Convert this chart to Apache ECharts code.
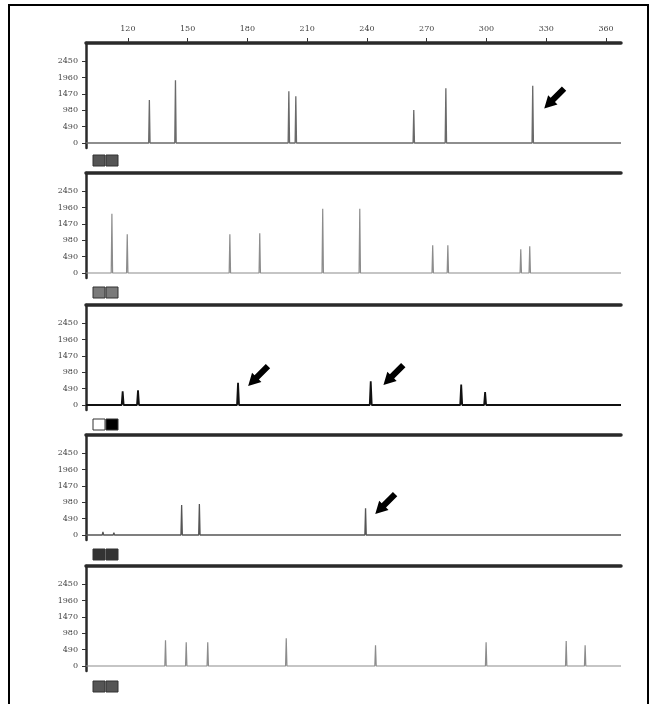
<!DOCTYPE html>
<html><head><meta charset="utf-8">
<script src="https://cdn.jsdelivr.net/npm/echarts@6/dist/echarts.min.js"></script>
<style>html,body{margin:0;padding:0;background:#fff}#c{width:652px;height:704px}</style>
</head><body><div id="c"></div>
<script>
// ---- data ----
const xTickLabels = [120, 150, 180, 210, 240, 270, 300, 330, 360];
const yTickLabels = [0, 490, 980, 1470, 1960, 2450];

const p1Pos    = [120, 127, 130.8, 139.5, 143.9, 200.8, 204.3, 263.5, 279.6, 323.2];
const p1Height = [40, 40, 1290, 40, 1880, 1550, 1400, 990, 1640, 1720];

const p2Pos    = [112.0, 119.7, 171.2, 186.2, 192.7, 217.8, 232.9, 236.4, 273.0, 280.6, 317.2, 321.7];
const p2Height = [1780, 1160, 1160, 1190, 50, 1930, 40, 1930, 830, 830, 710, 800];

const p3Pos    = [113, 117.4, 125.1, 147, 160, 175.3, 241.9, 280.5, 287.3, 299.3];
const p3Height = [60, 410, 440, 40, 30, 670, 710, 50, 610, 390];

const p4Pos    = [107.5, 113.0, 147.0, 155.9, 239.3, 264.0];
const p4Height = [90, 70, 900, 930, 800, 40];

const p5Pos    = [138.9, 149.3, 160.1, 199.5, 244.3, 299.8, 340.0, 349.5];
const p5Height = [770, 710, 710, 830, 620, 710, 750, 620];

// arrows [x, y] in data units
const p1Arrows = [[334.5, 1365]];
const p3Arrows = [[185.9, 900], [253.8, 930]];
const p4Arrows = [[249.7, 960]];

// ---- layout ----
const X_MIN = 99, X_MAX = 367.5, Y_MIN = -150, Y_MAX = 3000;
const gridTops = [43, 173, 305, 435, 566];
const legendTops = [155, 287, 419, 549, 681];
const colors = ['#6a6a6a', '#8c8c8c', '#111111', '#555555', '#8c8c8c'];
const widths = [1.3, 1.2, 1.8, 1.3, 1.2];
const halfW = [0.35, 0.35, 0.5, 0.35, 0.35];
const legendFills = [['#555', '#555'], ['#7a7a7a', '#7a7a7a'], ['#fff', '#000'], ['#333', '#333'], ['#555', '#555']];

const panels = [
  [p1Pos, p1Height, p1Arrows],
  [p2Pos, p2Height, []],
  [p3Pos, p3Height, p3Arrows],
  [p4Pos, p4Height, p4Arrows],
  [p5Pos, p5Height, []]
];

const arrowPath = 'path://M0,100 L17.7,39.9 L29,51.2 L80.1,0.1 L99.9,19.9 L48.8,71 L60.1,82.3 Z';

function trace(pos, h, w) {
  const pts = [[X_MIN, 0]];
  pos.forEach((x, i) => { pts.push([x - w, 0], [x, h[i]], [x + w, 0]); });
  pts.push([X_MAX, 0]);
  return pts;
}

const grid = [], xAxis = [], yAxis = [], series = [], graphic = [];
panels.forEach((p, i) => {
  grid.push({ left: 86, right: 31, top: gridTops[i], height: 105 });
  xAxis.push({
    type: 'value', gridIndex: i, position: 'top', min: X_MIN, max: X_MAX,
    axisLine: { show: true, onZero: false, lineStyle: { color: '#2a2a2a', width: 3.5 } },
    axisTick: { show: i === 0, inside: false, length: 5, lineStyle: { color: '#333', width: 1 }, customValues: xTickLabels },
    axisLabel: { show: i === 0, customValues: xTickLabels, formatter: v => String(v), color: '#444', fontSize: 8, fontFamily: 'DejaVu Serif', margin: 10 },
    splitLine: { show: false }
  });
  yAxis.push({
    type: 'value', gridIndex: i, min: Y_MIN, max: Y_MAX,
    axisLine: { show: true, onZero: false, lineStyle: { color: '#2a2a2a', width: 2.5 } },
    axisTick: { show: true, length: 4, lineStyle: { color: '#333' }, customValues: yTickLabels },
    axisLabel: { customValues: yTickLabels, formatter: v => String(v), color: '#444', fontSize: 8, fontFamily: 'DejaVu Serif', margin: 8, padding: [0, 0, 8, 0] },
    splitLine: { show: false }
  });
  series.push({
    type: 'line', xAxisIndex: i, yAxisIndex: i, data: trace(p[0], p[1], halfW[i]),
    showSymbol: false, symbol: 'none', animation: false, silent: true,
    lineStyle: { color: colors[i], width: widths[i] },
    markPoint: {
      symbol: arrowPath, symbolSize: [22, 22], silent: true, animation: false,
      itemStyle: { color: '#000' }, label: { show: false },
      data: p[2].map(a => ({ coord: a }))
    }
  });
  const lf = legendFills[i];
  graphic.push({ type: 'rect', shape: { x: 93, y: legendTops[i], width: 12, height: 11 },
    style: { fill: lf[0], stroke: '#333', lineWidth: 1 } });
  graphic.push({ type: 'rect', shape: { x: 106, y: legendTops[i], width: 12, height: 11 },
    style: { fill: lf[1], stroke: '#333', lineWidth: 1 } });
});
graphic.push({ type: 'rect', shape: { x: 9, y: 5, width: 639, height: 712 },
  style: { fill: 'none', stroke: '#000', lineWidth: 2 } });

const chart = echarts.init(document.getElementById('c'), null, { renderer: 'canvas' });
chart.setOption({ animation: false, backgroundColor: '#fff', grid, xAxis, yAxis, series, graphic });
</script>
</body></html>
